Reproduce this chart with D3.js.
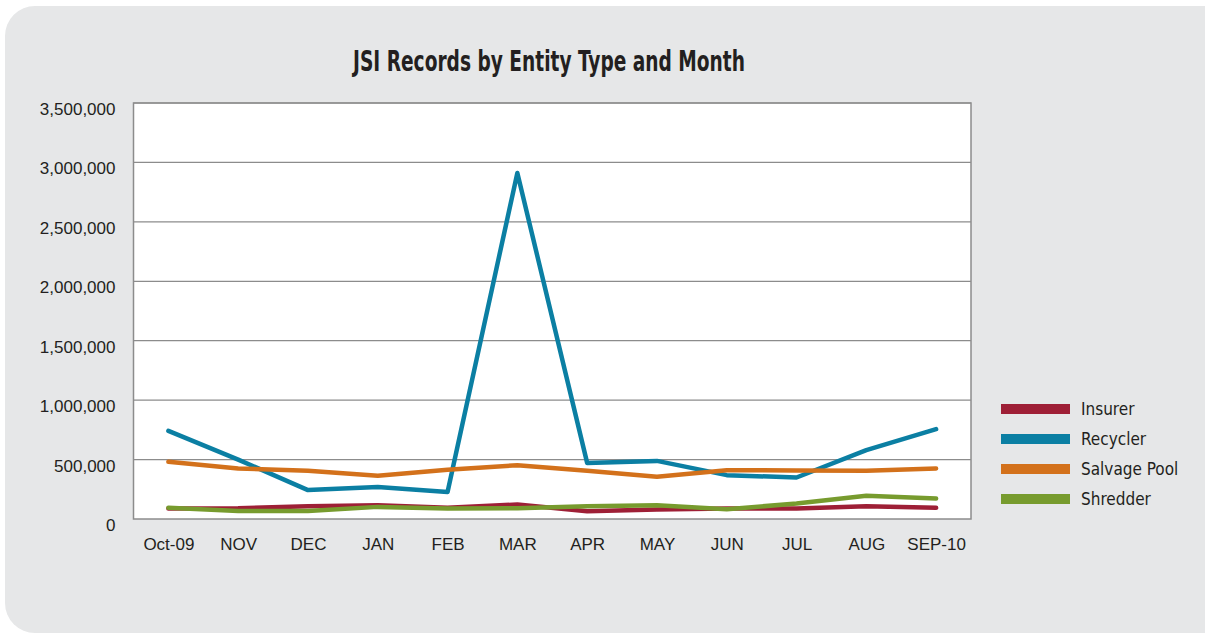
<!DOCTYPE html>
<html>
<head>
<meta charset="utf-8">
<script src="https://cdn.jsdelivr.net/npm/d3@7"></script>
<style>
  body { margin: 0; background: #fff; }
  svg { display: block; font-family: "Liberation Sans Narrow", "DejaVu Sans Condensed", "Roboto Condensed", sans-serif; }
</style>
</head>
<body>
<div id="wrapper"></div>
<script>
const months = ["Oct-09", "NOV", "DEC", "JAN", "FEB", "MAR", "APR", "MAY", "JUN", "JUL", "AUG", "SEP-10"]
const seriesNames = ["Insurer", "Recycler", "Salvage Pool", "Shredder"]
const seriesColors = ["#9e1f36", "#0b7fa3", "#d3711b", "#779b2e"]
const insurer = [88000, 91000, 108000, 116000, 94000, 122000, 66000, 80000, 88000, 88000, 108000, 94000]
const recycler = [741000, 500000, 243000, 270000, 228000, 2911000, 472000, 489000, 369000, 349000, 579000, 756000]
const salvagePool = [481000, 425000, 405000, 363000, 415000, 453000, 405000, 355000, 411000, 408000, 405000, 425000]
const shredder = [94000, 68000, 68000, 102000, 88000, 91000, 108000, 116000, 82000, 130000, 195000, 172000]
const yTicks = [0, 500000, 1000000, 1500000, 2000000, 2500000, 3000000, 3500000]

const seriesValues = [insurer, recycler, salvagePool, shredder]

function drawChart() {
  const dimensions = {
    width: 1205,
    height: 634,
    margin: { top: 103, right: 234, bottom: 115, left: 133.5 },
  }
  dimensions.boundedWidth = dimensions.width - dimensions.margin.left - dimensions.margin.right
  dimensions.boundedHeight = dimensions.height - dimensions.margin.top - dimensions.margin.bottom

  const wrapper = d3.select("#wrapper")
    .append("svg")
      .attr("width", dimensions.width)
      .attr("height", dimensions.height)

  // grey rounded panel
  wrapper.append("rect")
      .attr("x", 5)
      .attr("y", 6)
      .attr("width", 1230)
      .attr("height", 627)
      .attr("rx", 30)
      .attr("fill", "#e6e7e8")

  // condensed heavy title, squeezed to the width it has in the original
  wrapper.append("text")
      .attr("x", 549)
      .attr("y", 71)
      .attr("text-anchor", "middle")
      .attr("fill", "#231f20")
      .attr("textLength", 392)
      .attr("lengthAdjust", "spacingAndGlyphs")
      .style("font-size", "29px")
      .style("font-weight", "bold")
      .text("JSI Records by Entity Type and Month")

  const bounds = wrapper.append("g")
      .attr("transform", `translate(${dimensions.margin.left}, ${dimensions.margin.top})`)

  const xScale = d3.scalePoint()
      .domain(months)
      .range([0, dimensions.boundedWidth])
      .padding(0.5)

  const yScale = d3.scaleLinear()
      .domain([0, 3500000])
      .range([dimensions.boundedHeight, 0])

  bounds.append("rect")
      .attr("width", dimensions.boundedWidth)
      .attr("height", dimensions.boundedHeight)
      .attr("fill", "#fff")

  // gridlines
  bounds.append("g")
    .selectAll("line")
    .data(yTicks.slice(1))
    .join("line")
      .attr("x1", 0)
      .attr("x2", dimensions.boundedWidth)
      .attr("y1", d => yScale(d))
      .attr("y2", d => yScale(d))
      .attr("stroke", "#8c8c8c")
      .attr("stroke-width", 1.2)

  bounds.append("rect")
      .attr("width", dimensions.boundedWidth)
      .attr("height", dimensions.boundedHeight)
      .attr("fill", "none")
      .attr("stroke", "#8c8c8c")
      .attr("stroke-width", 1.5)

  const yAxisGenerator = d3.axisLeft(yScale)
      .tickValues(yTicks)
      .tickFormat(d3.format(","))
      .tickSize(0)
      .tickPadding(18)
  const yAxis = bounds.append("g").call(yAxisGenerator)
  yAxis.select(".domain").remove()
  yAxis.selectAll("text")
      .attr("dy", "0.85em")
      .attr("y", -3)
      .attr("fill", "#231f20")
      .style("font-size", "17px")

  const xAxisGenerator = d3.axisBottom(xScale)
      .tickSize(0)
      .tickPadding(19)
  const xAxis = bounds.append("g")
      .attr("transform", `translate(0, ${dimensions.boundedHeight})`)
      .call(xAxisGenerator)
  xAxis.select(".domain").remove()
  xAxis.selectAll("text")
      .attr("fill", "#231f20")
      .style("font-size", "17px")

  const lineGenerator = d3.line()
      .x((d, i) => xScale(months[i]))
      .y(d => yScale(d))

  bounds.append("g")
    .selectAll("path")
    .data(seriesValues)
    .join("path")
      .attr("d", d => lineGenerator(d))
      .attr("fill", "none")
      .attr("stroke", (d, i) => seriesColors[i])
      .attr("stroke-width", 4.5)
      .attr("stroke-linejoin", "round")
      .attr("stroke-linecap", "round")

  const legend = wrapper.append("g")
      .attr("transform", "translate(1001, 409)")
  const items = legend.selectAll("g")
    .data(seriesNames)
    .join("g")
      .attr("transform", (d, i) => `translate(0, ${i * 30})`)
  items.append("rect")
      .attr("y", -5)
      .attr("width", 69)
      .attr("height", 10)
      .attr("fill", (d, i) => seriesColors[i])
  items.append("text")
      .attr("x", 80)
      .attr("dy", "0.35em")
      .attr("fill", "#231f20")
      .style("font-size", "17px")
      .text(d => d)
}
drawChart()
</script>
</body>
</html>
